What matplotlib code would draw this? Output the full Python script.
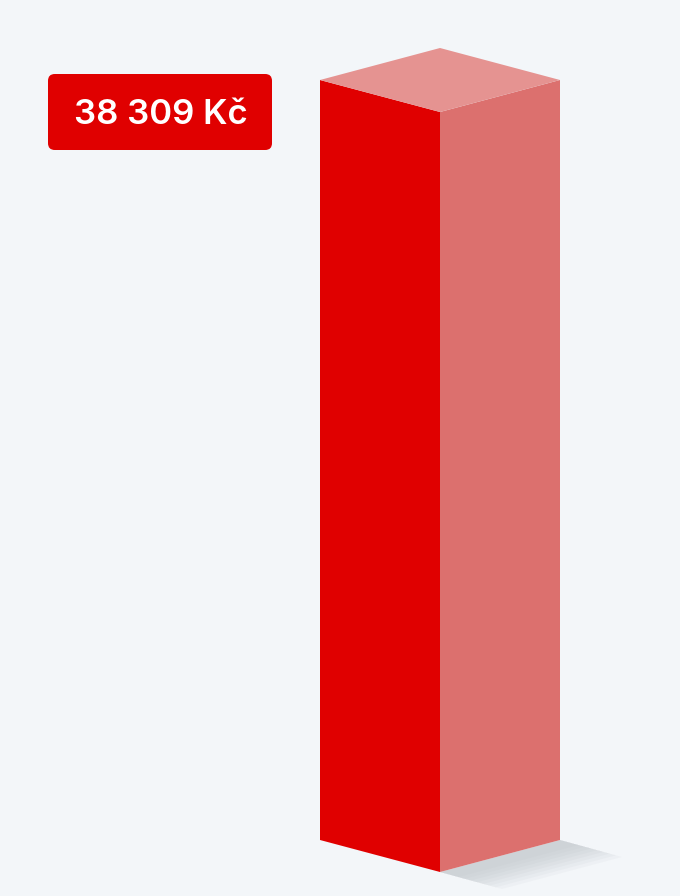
import matplotlib.pyplot as plt
from matplotlib.patches import Polygon, FancyBboxPatch

# data
value = 38309
label = "38 309 Kč"

front_color = "#e00000"
side_color = "#dc706e"
top_color = "#e59391"
bg_color = "#f3f6f9"

fig = plt.figure(figsize=(6.8, 8.96), dpi=100)
fig.patch.set_facecolor(bg_color)
ax = fig.add_axes([0, 0, 1, 1])
ax.set_facecolor(bg_color)

# bar occupies 760 px of height for the value
u = value / 760.0
ax.set_xlim(0, 680)
ax.set_ylim(-56 * u, 840 * u)
ax.axis("off")

x0, xm, x1 = 320, 440, 560
d = 32 * u

# shadow, a few layers fading out
for k, a in zip(range(8), [0.035, 0.035, 0.035, 0.035, 0.03, 0.03, 0.025, 0.02]):
    s = 1 - k * 0.1
    shadow = Polygon([(xm, -d), (x1, 0),
                      (x1 + 62 * s, -17 * u * s),
                      (xm + 62 * s, -d - 17 * u * s)],
                     closed=True, facecolor="#5a6570", alpha=a, lw=0, zorder=1)
    ax.add_patch(shadow)

front = Polygon([(x0, 0), (xm, -d), (xm, value - d), (x0, value)],
                closed=True, facecolor=front_color, lw=0, zorder=3)
side = Polygon([(xm, -d), (x1, 0), (x1, value), (xm, value - d)],
               closed=True, facecolor=side_color, lw=0, zorder=3)
top = Polygon([(x0, value), (xm, value - d), (x1, value), (xm, value + d)],
              closed=True, facecolor=top_color, lw=0, zorder=3)
for p in (front, side, top):
    ax.add_patch(p)

# value label box (pixel coordinates from top-left)
box = FancyBboxPatch((48 / 680, 1 - 150 / 896), 224 / 680, 76 / 896,
                     boxstyle="round,pad=0,rounding_size=0.01",
                     transform=fig.transFigure, facecolor=front_color,
                     lw=0, zorder=4, mutation_aspect=680 / 896)
ax.add_patch(box)
fig.text(161 / 680, 1 - 115 / 896, label, color="white", fontsize=25,
         fontweight="semibold", family=["Inter", "DejaVu Sans"],
         ha="center", va="center", zorder=5)

fig.savefig("out.png", dpi=100, facecolor=bg_color)
